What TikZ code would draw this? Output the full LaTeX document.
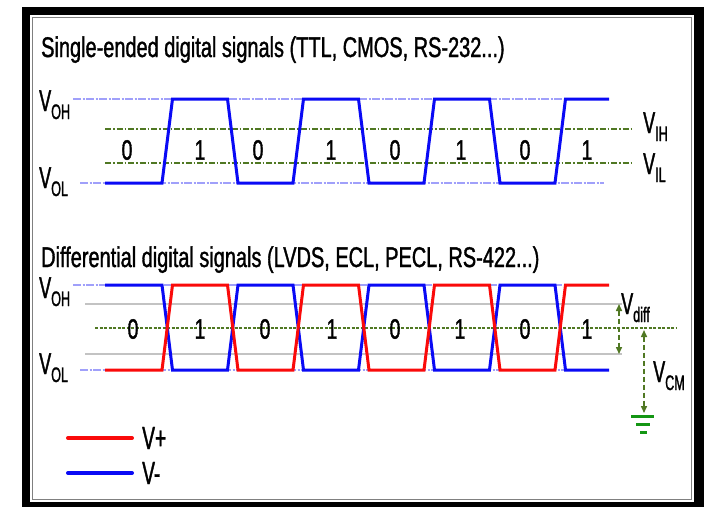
\documentclass[tikz,border=0pt]{standalone}
\usepackage{fontspec}
\setmainfont[FakeStretch=0.7, FakeBold=1.2]{Liberation Sans}
\newfontfamily\labfont[FakeStretch=0.6, FakeBold=1.2]{Liberation Sans}
\usepackage{tikz}
\usetikzlibrary{arrows.meta, positioning}
\definecolor{sigblue}{RGB}{10,10,245}
\definecolor{sigred}{RGB}{250,10,10}
\definecolor{refblue}{RGB}{160,160,250}
\definecolor{thgreen}{RGB}{80,120,35}
\definecolor{gndgreen}{RGB}{20,150,20}
\definecolor{lvlgray}{RGB}{195,195,195}
% nhãn điện áp: V + chỉ số dưới
\newcommand{\vlab}[2]{{\labfont\fontsize{30}{30}\selectfont #1}\raisebox{-8pt}{\labfont\fontsize{21}{21}\selectfont #2}}

\begin{document}
\begin{tikzpicture}[x=1pt, y=-1pt,
    sig/.style={line width=3pt, line join=miter},
    refline/.style={refblue, line width=2.2pt, dash pattern=on 8pt off 1.5pt on 2pt off 1.5pt},
    thline/.style={thgreen, line width=1.3pt, dash pattern=on 6pt off 2pt on 1.5pt off 2pt},
    cmline/.style={thgreen, line width=2pt, dash pattern=on 3pt off 1.5pt},
    lvlline/.style={lvlgray, line width=1.2pt},
    measure/.style={thgreen, line width=1.5pt, dash pattern=on 5pt off 3pt,
        {Triangle[length=7pt,width=6pt]}-{Triangle[length=7pt,width=6pt]}},
    gnd/.style={gndgreen, line width=3pt},
    title/.style={anchor=base west, inner sep=0pt, font=\fontsize{28.5}{28.5}\selectfont},
    bit/.style={inner sep=0pt, font=\fontsize{28}{28}\selectfont},
    vl/.style={anchor=base west, inner sep=0pt}]
    \useasboundingbox (0,0) rectangle (704,507);

    % Khung viền đen bên ngoài
    \fill[black] (22,7) rectangle (704,507);
    \fill[white] (30,15) rectangle (694,502);
    \draw[gray, line width=1.5pt] (32.5,17.5) rectangle (691.5,499.5);

    % Tiêu đề phần trên
    \node[title] (titleSE) at (41,57) {Single-ended digital signals (TTL, CMOS, RS-232...)};

    % Các mức V_OH, V_OL và ngưỡng V_IH, V_IL
    \draw[refline] (73,99) -- (609,99);
    \draw[refline] (80,183) -- (604,183);
    \draw[thline] (105,129) -- (632,129);
    \draw[thline] (105,163) -- (632,163);

    % Tín hiệu đơn (màu xanh dương)
    \draw[sig, sigblue] (105,183) -- (162,183) -- (172.5,99) -- (227.5,99) -- (238,183) -- (293,183)
        -- (303.5,99) -- (358.5,99) -- (369,183) -- (424,183) -- (434.5,99) -- (489.5,99)
        -- (500,183) -- (555,183) -- (565.5,99) -- (609,99);

    % Các bit 0 / 1
    \node[bit] (se0) at (127,150) {0};
    \node[bit] (se1) at (200,150) {1};
    \node[bit] (se2) at (258,150) {0};
    \node[bit] (se3) at (331,150) {1};
    \node[bit] (se4) at (395,150) {0};
    \node[bit] (se5) at (461,150) {1};
    \node[bit] (se6) at (525,150) {0};
    \node[bit] (se7) at (587,150) {1};

    % Nhãn điện áp phần trên
    \node[vl] (vohA) at (39,111) {\vlab{V}{OH}};
    \node[vl] (volA) at (39,188) {\vlab{V}{OL}};
    \node[vl] (vih) at (643,133) {\vlab{V}{IH}};
    \node[vl] (vil) at (643,174) {\vlab{V}{IL}};

    % Tiêu đề phần dưới
    \node[title] (titleDF) at (41,267) {Differential digital signals (LVDS, ECL, PECL, RS-422...)};

    % Các mức của tín hiệu vi sai
    \draw[refline] (73,285) -- (609,285);
    \draw[refline] (80,370) -- (604,370);
    \draw[lvlline] (85,304) -- (622,304);
    \draw[lvlline] (85,354) -- (622,354);
    \draw[cmline] (95,328) -- (677,328);

    % V- (xanh dương)
    \draw[sig, sigblue] (105,285) -- (162,285) -- (172.5,370) -- (227.5,370) -- (238,285) -- (293,285)
        -- (303.5,370) -- (358.5,370) -- (369,285) -- (424,285) -- (434.5,370) -- (489.5,370)
        -- (500,285) -- (555,285) -- (565.5,370) -- (609,370);
    % V+ (đỏ)
    \draw[sig, sigred] (105,370) -- (162,370) -- (172.5,285) -- (227.5,285) -- (238,370) -- (293,370)
        -- (303.5,285) -- (358.5,285) -- (369,370) -- (424,370) -- (434.5,285) -- (489.5,285)
        -- (500,370) -- (555,370) -- (565.5,285) -- (609,285);

    % Các bit 0 / 1 phần dưới
    \node[bit] (df0) at (133,329) {0};
    \node[bit] (df1) at (200,329) {1};
    \node[bit] (df2) at (265,329) {0};
    \node[bit] (df3) at (332,329) {1};
    \node[bit] (df4) at (395,329) {0};
    \node[bit] (df5) at (460,329) {1};
    \node[bit] (df6) at (525,329) {0};
    \node[bit] (df7) at (587,329) {1};

    % Nhãn điện áp phần dưới
    \node[vl] (vohB) at (39,298) {\vlab{V}{OH}};
    \node[vl] (volB) at (39,374) {\vlab{V}{OL}};

    % Mũi tên V_diff
    \coordinate (diffTop) at (619,304);
    \coordinate (diffBot) at (619,354);
    \draw[measure] (diffTop) -- (diffBot);
    \node[vl] (vdiff) at (621,314) {\vlab{V}{diff}};

    % Mũi tên V_CM xuống đất
    \coordinate (cmTop) at (644,330);
    \coordinate (cmBot) at (644,413);
    \draw[measure] (cmTop) -- (cmBot);
    \node[vl] (vcm) at (653,382) {\vlab{V}{CM}};

    % Ký hiệu nối đất
    \draw[gnd] (631,416) -- (654,416);
    \draw[gnd] (636,424) -- (650,424);
    \draw[gnd] (640,432) -- (647,432);

    % Chú thích
    \coordinate (legRedA) at (68,438);
    \coordinate (legRedB) at (132,438);
    \coordinate (legBlueA) at (68,473);
    \coordinate (legBlueB) at (132,473);
    \draw[sigred, line width=4pt, line cap=round] (legRedA) -- (legRedB);
    \draw[sigblue, line width=4pt, line cap=round] (legBlueA) -- (legBlueB);
    \node[vl, font=\labfont\fontsize{32}{32}\selectfont] (vplus) at (142,449) {V+};
    \node[vl, font=\labfont\fontsize{32}{32}\selectfont] (vminus) at (142,484) {V-};
\end{tikzpicture}
\end{document}
